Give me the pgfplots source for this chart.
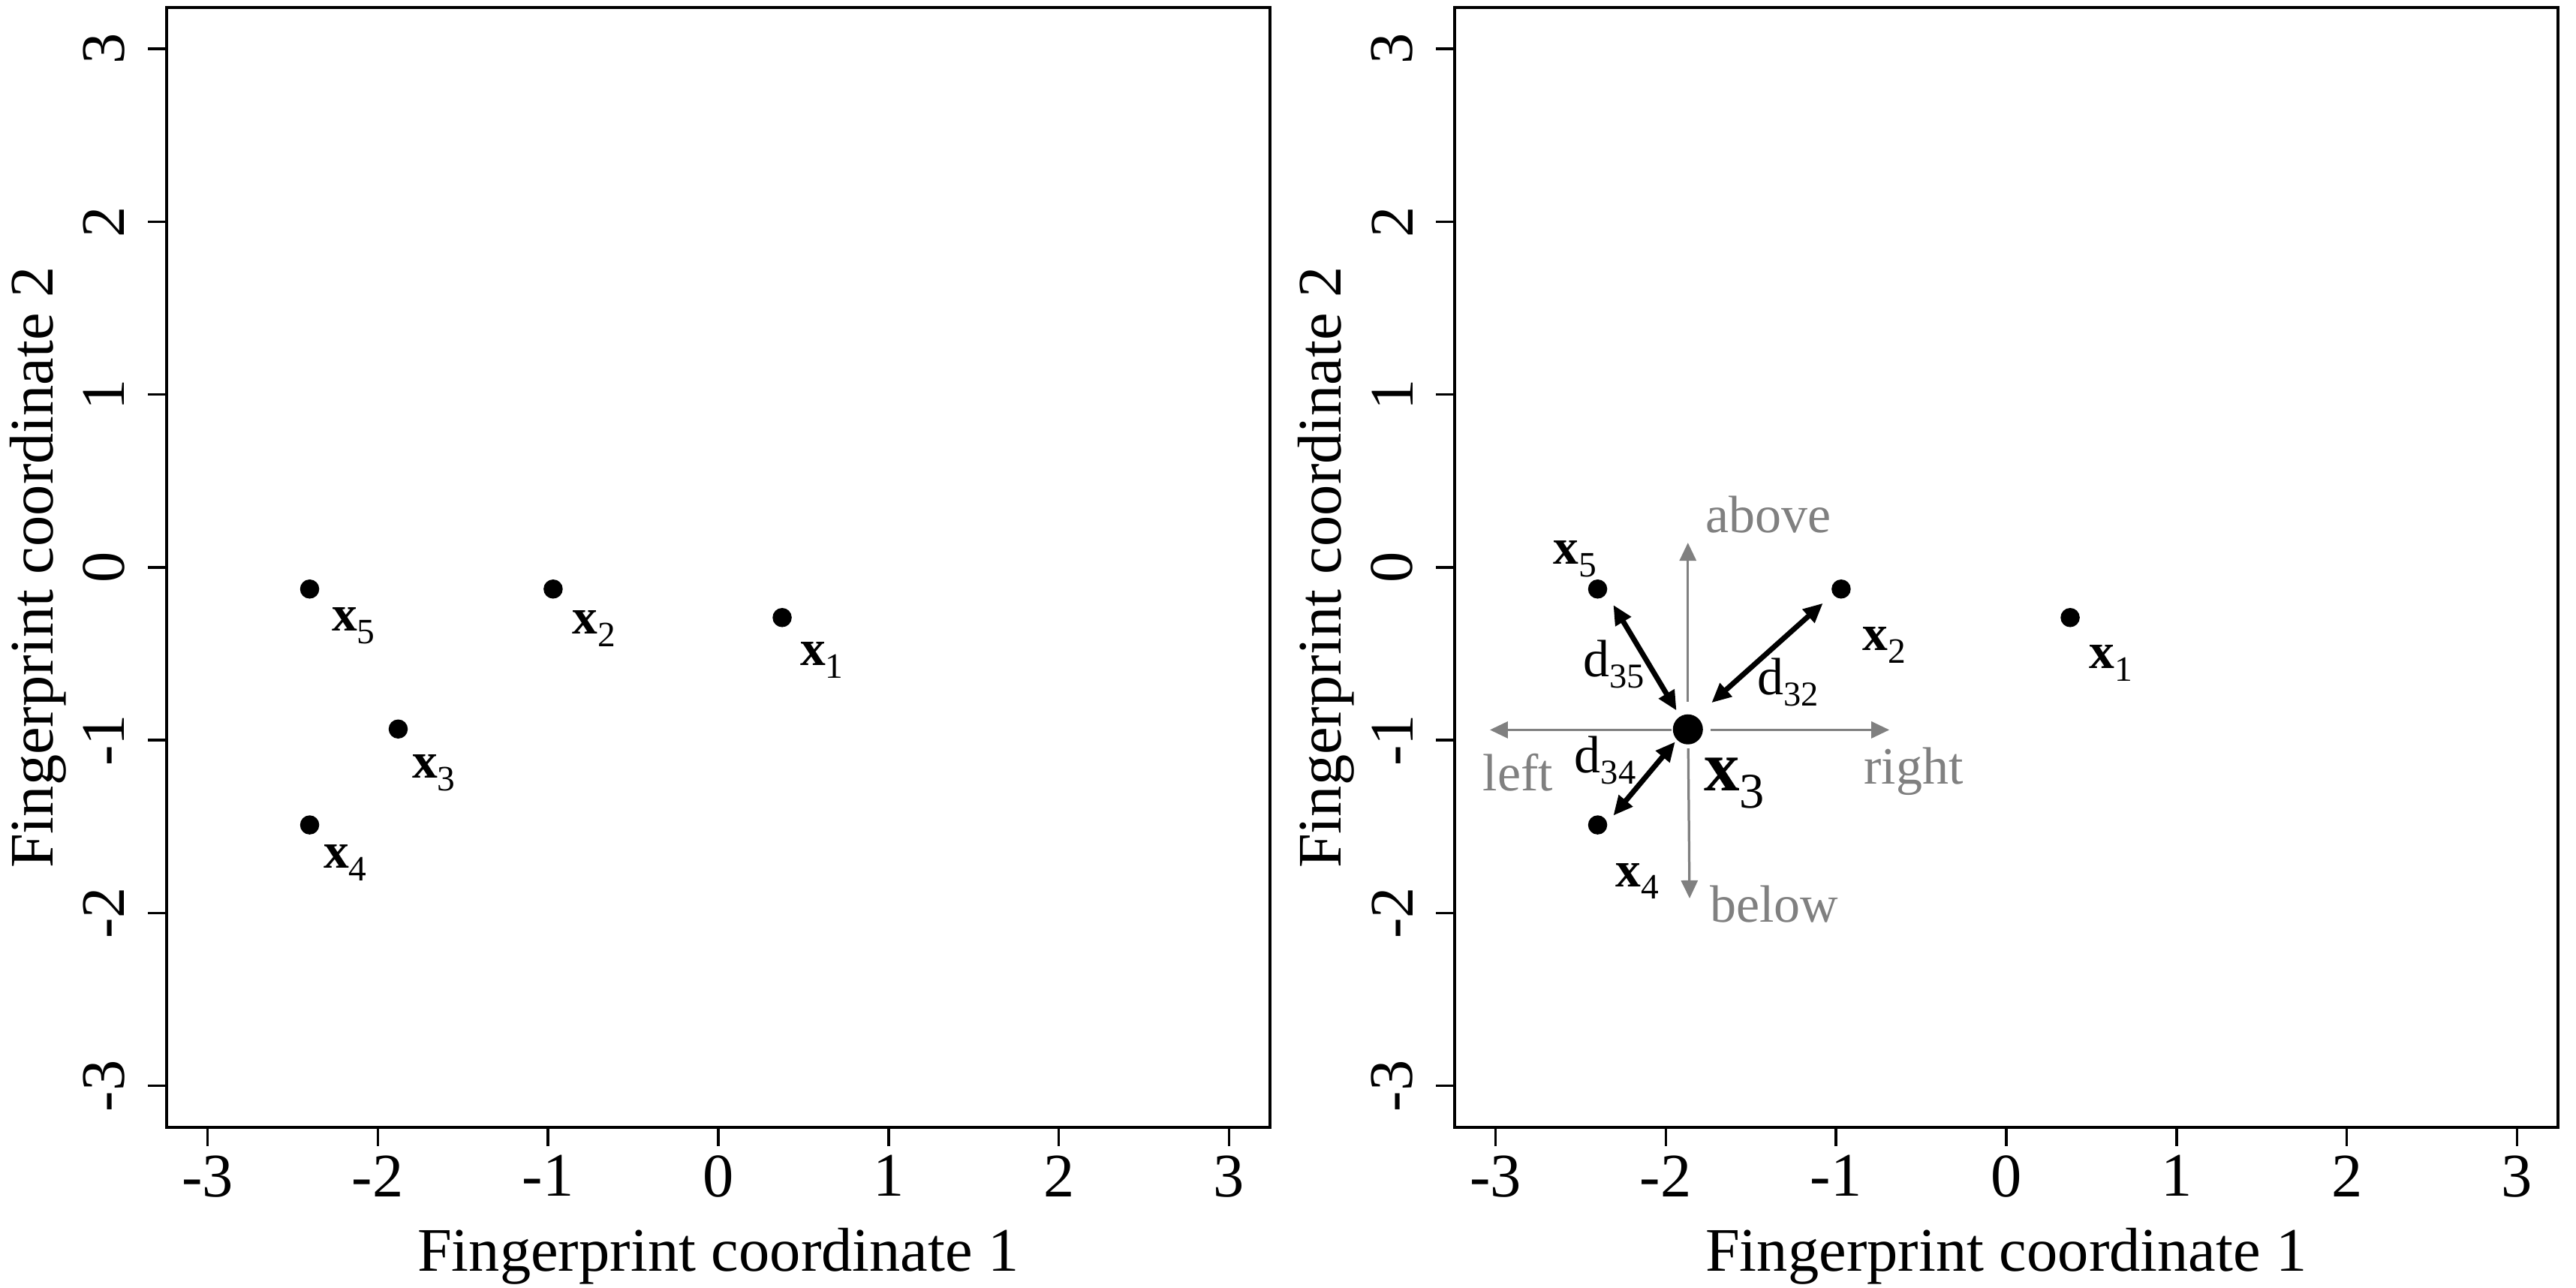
\documentclass[border=0pt]{standalone}
\usepackage{fontspec}
\setmainfont{Liberation Serif}
\usepackage{pgfplots}
\usepackage{pgfplotstable}
\pgfplotsset{compat=1.18}
\usetikzlibrary{arrows.meta}

\definecolor{lbl}{RGB}{128,128,128}

% point labels: bold x with a lowered index
\newcommand\xs[1]{{\fontsize{13.5}{14}\selectfont\textbf{x}\raisebox{-3.3pt}{\fontsize{9.5}{10}\selectfont #1}}}
\newcommand\xb[1]{{\fontsize{19}{20}\selectfont\textbf{x}\raisebox{-4.6pt}{\fontsize{13.3}{14}\selectfont #1}}}
\newcommand\dd[1]{{\fontsize{14}{15}\selectfont d\raisebox{-3pt}{\fontsize{9.3}{10}\selectfont #1}}}
\newcommand\ry[1]{\rotatebox{90}{#1}}

% fingerprint coordinates of the five points
\pgfplotstableread{
x      y
0.375  -0.290
-0.970 -0.125
-1.880 -0.935
-2.400 -1.490
-2.400 -0.125
}\pts

\pgfplotstableread{
x      y
0.375  -0.290
-0.970 -0.125
-2.400 -1.490
-2.400 -0.125
}\others

\tikzset{txt/.style={anchor=base west, inner sep=0pt}}

\pgfplotsset{
  fp/.style={
    scale only axis, width=294pt, height=298.4pt,
    xmin=-3.24, xmax=3.24, ymin=-3.24, ymax=3.24,
    xtick={-3,-2,-1,0,1,2,3}, ytick={-3,-2,-1,0,1,2,3},
    xticklabels={-3,-2,-1,0,1,2,3},
    yticklabels={\ry{-3},\ry{-2},\ry{-1},\ry{0},\ry{1},\ry{2},\ry{3}},
    xtick pos=bottom, ytick pos=left,
    tick align=outside, major tick length=5pt,
    axis line style={line width=0.7pt},
    every tick/.style={black, line width=0.7pt},
    ticklabel style={font=\fontsize{16.5}{18}\selectfont, inner sep=0pt},
    xticklabel style={anchor=north, yshift=-2.3pt},
    yticklabel style={anchor=east, xshift=-6pt},
    xlabel={Fingerprint coordinate 1},
    ylabel={Fingerprint coordinate 2},
    label style={font=\fontsize{16.5}{18}\selectfont, inner sep=0pt},
    xlabel style={at={(axis description cs:0.5,0)}, anchor=base, yshift=-38.2pt},
    % ylabel is already turned by 90 degrees, so yshift moves it to the left
    ylabel style={at={(axis description cs:0,0.5)}, anchor=base, yshift=30.4pt},
    clip=false,
  },
  dot/.style={only marks, mark=*, mark size=2.35pt, black},
  garr/.style={lbl, line width=0.65pt, -{Triangle[length=4.8pt,width=4.4pt]}},
  barr/.style={black, line width=1.4pt, {Triangle[length=5.2pt,width=4.6pt]}-{Triangle[length=5.2pt,width=4.6pt]}},
}

\begin{document}
\begin{tikzpicture}
\path[use as bounding box] (0,0) rectangle (686.4pt,343.2pt);

% left panel
\begin{axis}[fp, at={(44.4pt,42.8pt)}, anchor=south west]
  \addplot[dot] table {\pts};
  \node[txt] at (axis cs:0.477,-0.568) {\xs{1}};
  \node[txt] at (axis cs:-0.860,-0.385) {\xs{2}};
  \node[txt] at (axis cs:-1.802,-1.219) {\xs{3}};
  \node[txt] at (axis cs:-2.323,-1.740) {\xs{4}};
  \node[txt] at (axis cs:-2.274,-0.369) {\xs{5}};
\end{axis}

% right panel
\begin{axis}[fp, at={(387.6pt,42.8pt)}, anchor=south west]
  % directions
  \addplot[garr] coordinates {(-1.870,-0.777) (-1.870,0.143)};
  \addplot[garr] coordinates {(-1.868,-1.047) (-1.860,-1.915)};
  \addplot[garr] coordinates {(-1.965,-0.940) (-3.033,-0.940)};
  \addplot[garr] coordinates {(-1.736,-0.940) (-0.687,-0.940)};
  % distances
  \addplot[barr] coordinates {(-1.937,-0.828) (-2.308,-0.217)};
  \addplot[barr] coordinates {(-1.731,-0.783) (-1.077,-0.207)};
  \addplot[barr] coordinates {(-1.945,-1.009) (-2.308,-1.436)};
  \addplot[dot] table {\others};
  \addplot[dot, mark size=3.8pt] coordinates {(-1.870,-0.937)};
  \node[txt] at (axis cs:0.483,-0.586) {\xs{1}};
  \node[txt] at (axis cs:-0.849,-0.481) {\xs{2}};
  \node[txt] at (axis cs:-1.779,-1.294) {\xb{3}};
  \node[txt] at (axis cs:-2.300,-1.846) {\xs{4}};
  \node[txt] at (axis cs:-2.665,0.019) {\xs{5}};
  \node[txt] at (axis cs:-2.489,-0.633) {\dd{35}};
  \node[txt] at (axis cs:-1.467,-0.737) {\dd{32}};
  \node[txt] at (axis cs:-2.540,-1.190) {\dd{34}};
  \node[txt, lbl, font=\fontsize{14}{15}\selectfont] at (axis cs:-1.771,0.200) {above};
  \node[txt, lbl, font=\fontsize{14}{15}\selectfont] at (axis cs:-1.745,-2.054) {below};
  \node[txt, lbl, font=\fontsize{14}{15}\selectfont] at (axis cs:-0.840,-1.251) {right};
  \node[txt, lbl, font=\fontsize{14}{15}\selectfont] at (axis cs:-3.077,-1.291) {left};
\end{axis}
\end{tikzpicture}
\end{document}
